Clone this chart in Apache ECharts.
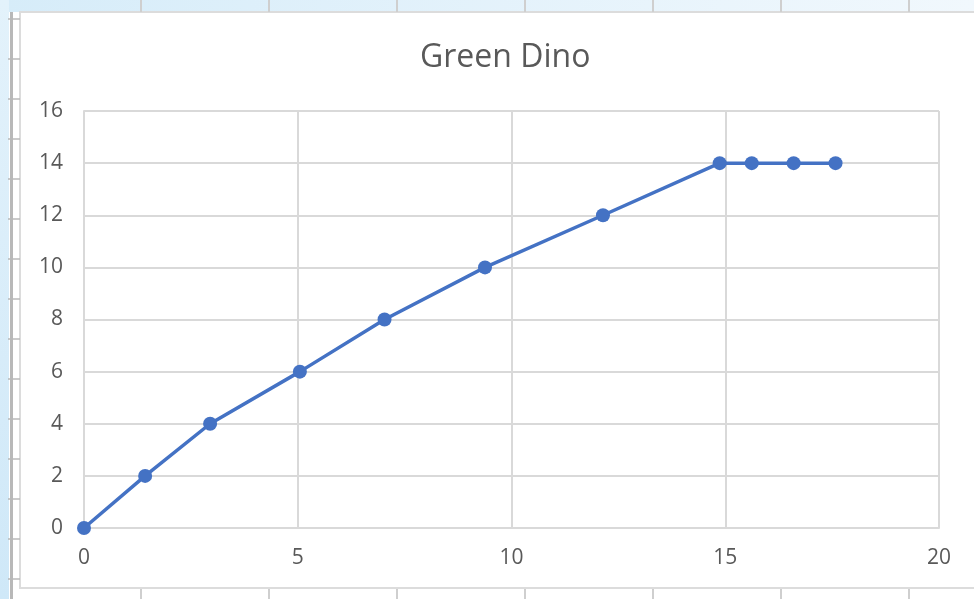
<!DOCTYPE html>
<html>
<head>
<meta charset="utf-8">
<title>Green Dino</title>
<script src="https://cdn.jsdelivr.net/npm/echarts@6/dist/echarts.min.js"></script>
<style>
  html, body { margin: 0; padding: 0; background: #ffffff; }
  #chart { width: 974px; height: 599px; }
</style>
</head>
<body>
<div id="chart"></div>
<script>
// Measurements for the "Green Dino" series
const titleText = 'Green Dino';
const xValues = [0, 1.43, 2.95, 5.05, 7.03, 9.38, 12.14, 14.87, 15.62, 16.6, 17.58];
const yValues = [0, 2, 4, 6, 8, 10, 12, 14, 14, 14, 14];
const xTicks = { min: 0, max: 20, interval: 5 };
const yTicks = { min: 0, max: 16, interval: 2 };

const points = xValues.map((x, i) => [x, yValues[i]]);

const W = 974, H = 599;
const textColor = '#595959';
const gridColor = '#d9d9d9';
const font = '"Open Sans", "Noto Sans", sans-serif';

// Worksheet frame around the chart: a tinted margin with ruler ticks
const frame = [
  { type: 'rect', shape: { x: 0, y: 0, width: W, height: 12 },
    style: { fill: new echarts.graphic.LinearGradient(0, 0, 1, 0, [
      { offset: 0, color: '#d6ecf9' }, { offset: 1, color: '#f1f8fd' }]) }, silent: true },
  { type: 'rect', shape: { x: 0, y: 0, width: 9, height: H },
    style: { fill: new echarts.graphic.LinearGradient(0, 0, 0, 1, [
      { offset: 0, color: '#e3f2fb' }, { offset: 1, color: '#cfe8f8' }]) }, silent: true },
  { type: 'rect', shape: { x: 10, y: 12, width: 3, height: H },
    style: { fill: '#b8b8b8' }, silent: true },
  { type: 'rect', shape: { x: 20, y: 12, width: W, height: 576 },
    style: { fill: '#ffffff', stroke: '#dcdcdc', lineWidth: 2 }, silent: true }
];
for (let x = 141; x < W; x += 128) {
  frame.push({ type: 'line', shape: { x1: x, y1: 0, x2: x, y2: 12 },
    style: { stroke: '#cfcfcf', lineWidth: 2 }, silent: true });
  frame.push({ type: 'line', shape: { x1: x, y1: 589, x2: x, y2: H },
    style: { stroke: '#cfcfcf', lineWidth: 2 }, silent: true });
}
for (let y = 19; y < H; y += 40) {
  frame.push({ type: 'line', shape: { x1: 8, y1: y, x2: 20, y2: y },
    style: { stroke: '#b8b8b8', lineWidth: 1.5 }, silent: true });
}

const chart = echarts.init(document.getElementById('chart'), null, { renderer: 'canvas' });
chart.setOption({
  animation: false,
  backgroundColor: '#ffffff',
  graphic: { elements: frame.map(e => Object.assign({ z: -10 }, e)) },
  title: {
    text: titleText,
    left: 415,
    top: 37,
    textStyle: { fontFamily: font, fontSize: 32, fontWeight: 'normal', color: textColor }
  },
  grid: { left: 84, right: W - 939, top: 111, bottom: H - 528, containLabel: false },
  xAxis: {
    type: 'value',
    min: xTicks.min, max: xTicks.max, interval: xTicks.interval,
    axisLine: { show: true, lineStyle: { color: gridColor, width: 2 } },
    axisTick: { show: false },
    splitLine: { show: true, lineStyle: { color: gridColor, width: 2 } },
    axisLabel: { color: textColor, fontFamily: font, fontSize: 21, margin: 20 }
  },
  yAxis: {
    type: 'value',
    min: yTicks.min, max: yTicks.max, interval: yTicks.interval,
    axisLine: { show: true, lineStyle: { color: gridColor, width: 2 } },
    axisTick: { show: false },
    splitLine: { show: true, lineStyle: { color: gridColor, width: 2 } },
    axisLabel: { color: textColor, fontFamily: font, fontSize: 21, margin: 21 }
  },
  series: [{
    name: titleText,
    type: 'line',
    data: points,
    symbol: 'circle',
    symbolSize: 14,
    showSymbol: true,
    lineStyle: { color: '#4472c4', width: 3.5 },
    itemStyle: { color: '#4472c4' },
    z: 5
  }]
});
</script>
</body>
</html>
